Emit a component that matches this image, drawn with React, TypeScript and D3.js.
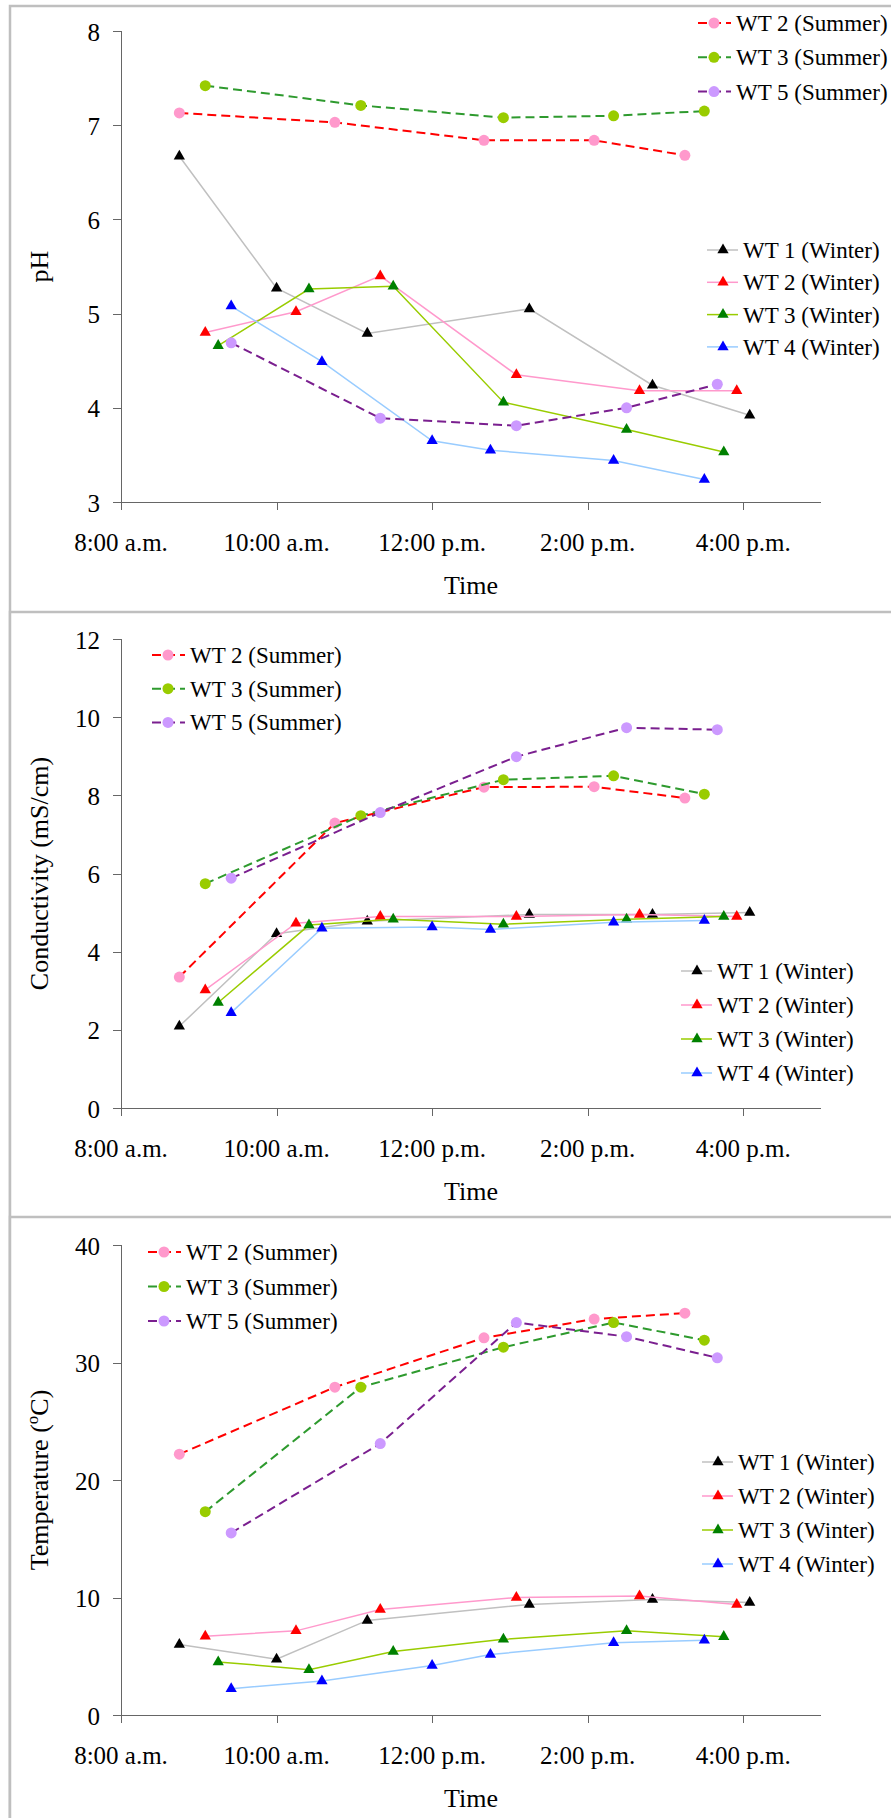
import * as d3 from 'd3'

// series names
const summerNames = ['WT 2 (Summer)', 'WT 3 (Summer)', 'WT 5 (Summer)']
const winterNames = ['WT 1 (Winter)', 'WT 2 (Winter)', 'WT 3 (Winter)', 'WT 4 (Winter)']

// sampling times (same for all three parameters)
const summerTimes = [
  ['8:45', '10:45', '12:40', '14:05', '15:15'],
  ['9:05', '11:05', '12:55', '14:20', '15:30'],
  ['9:25', '11:20', '13:05', '14:30', '15:40'],
]
const winterTimes = [
  ['8:45', '10:00', '11:10', '13:15', '14:50', '16:05'],
  ['9:05', '10:15', '11:20', '13:05', '14:40', '15:55'],
  ['9:15', '10:25', '11:30', '12:55', '14:30', '15:45'],
  ['9:25', '10:35', '12:00', '12:45', '14:20', '15:30'],
]

// pH
const phSummer = [
  [7.13, 7.03, 6.84, 6.84, 6.68],
  [7.42, 7.21, 7.08, 7.1, 7.15],
  [4.69, 3.89, 3.81, 4.0, 4.25],
]
const phWinter = [
  [6.67, 5.27, 4.79, 5.05, 4.24, 3.92],
  [4.8, 5.02, 5.4, 4.35, 4.18, 4.18],
  [4.66, 5.26, 5.29, 4.06, 3.77, 3.53],
  [5.08, 4.49, 3.65, 3.55, 3.44, 3.24],
]

// conductivity (mS/cm)
const condSummer = [
  [3.35, 7.29, 8.21, 8.22, 7.93],
  [5.74, 7.48, 8.4, 8.5, 8.03],
  [5.88, 7.56, 8.99, 9.73, 9.68],
]
const condWinter = [
  [2.09, 4.46, 4.78, 4.95, 4.95, 5.0],
  [3.02, 4.73, 4.9, 4.9, 4.95, 4.9],
  [2.7, 4.68, 4.83, 4.7, 4.83, 4.9],
  [2.44, 4.6, 4.63, 4.57, 4.75, 4.8],
]

// temperature (°C)
const tempSummer = [
  [22.2, 27.9, 32.1, 33.7, 34.2],
  [17.3, 27.9, 31.3, 33.4, 31.9],
  [15.5, 23.1, 33.4, 32.2, 30.4],
]
const tempWinter = [
  [6.0, 4.75, 8.05, 9.41, 9.83, 9.57],
  [6.7, 7.16, 8.98, 10.0, 10.13, 9.41],
  [4.52, 3.86, 5.41, 6.44, 7.16, 6.67],
  [2.24, 2.9, 4.22, 5.15, 6.14, 6.37],
]

const timeTicks = [8, 10, 12, 14, 16]
const timeLabels = ['8:00 a.m.', '10:00 a.m.', '12:00 p.m.', '2:00 p.m.', '4:00 p.m.']

const summerLine = ['#ff0000', '#2e9a2e', '#7a1f8f']
const summerFill = ['#ff99cc', '#99cc00', '#cc99ff']
const winterLine = ['#c0c0c0', '#ff99cc', '#99cc00', '#99ccff']
const winterFill = ['#000000', '#ff0000', '#008000', '#0000ff']

const FONT = '"Liberation Serif", "Times New Roman", serif'
const W = 891
const H = 1818
const plotLeft = 121
const plotRight = 821

const parseTime = (s: string) => {
  const [h, m] = s.split(':').map(Number)
  return h + m / 60
}

const panels = [
  {
    top: 6, y0: 31, y1: 502, domain: [3, 8], step: 1,
    title: 'pH', summer: phSummer, winter: phWinter,
    sLeg: { x: 698, y: 23, gap: 34.3 }, wLeg: { x: 707, y: 250, gap: 32.3 },
  },
  {
    top: 612, y0: 639, y1: 1108, domain: [0, 12], step: 2,
    title: 'Conductivity (mS/cm)', summer: condSummer, winter: condWinter,
    sLeg: { x: 152, y: 655, gap: 33.7 }, wLeg: { x: 681, y: 971, gap: 34 },
  },
  {
    top: 1217, y0: 1245, y1: 1715, domain: [0, 40], step: 10,
    title: 'temp', summer: tempSummer, winter: tempWinter,
    sLeg: { x: 148, y: 1252, gap: 34.5 }, wLeg: { x: 702, y: 1462, gap: 34 },
  },
]

const x = d3.scaleLinear().domain([8, 17]).range([plotLeft, plotRight])
const tri = d3.symbol(d3.symbolTriangle, 55)()

function Panel({ p }: { p: (typeof panels)[number] }) {
  const y = d3.scaleLinear().domain(p.domain).range([p.y1, p.y0])
  const yTicks = d3.range(p.domain[0], p.domain[1] + p.step / 2, p.step)
  const line = d3
    .line<[number, number]>()
    .x((d) => x(d[0]))
    .y((d) => y(d[1]))
  const midY = (p.y0 + p.y1) / 2

  return (
    <g>
      <rect x={10} y={p.top} width={W + 20} height={H} fill="white" stroke="#bfbfbf" strokeWidth={2.5} />

      {/* axes */}
      <line x1={plotLeft + 0.5} x2={plotLeft + 0.5} y1={p.y0} y2={p.y1 + 8} stroke="#666" />
      <line x1={plotLeft} x2={plotRight} y1={p.y1 + 0.5} y2={p.y1 + 0.5} stroke="#666" />
      {yTicks.map((t) => (
        <g key={t}>
          <line x1={plotLeft - 8} x2={plotLeft} y1={Math.round(y(t)) + 0.5} y2={Math.round(y(t)) + 0.5} stroke="#666" />
          <text x={100} y={y(t)} dy="0.38em" textAnchor="end" fontSize={25} fontFamily={FONT}>
            {t}
          </text>
        </g>
      ))}
      {timeTicks.map((t, i) => (
        <g key={t}>
          <line x1={Math.round(x(t)) + 0.5} x2={Math.round(x(t)) + 0.5} y1={p.y1} y2={p.y1 + 8} stroke="#666" />
          <text x={x(t)} y={p.y1 + 49} textAnchor="middle" fontSize={25} fontFamily={FONT}>
            {timeLabels[i]}
          </text>
        </g>
      ))}
      <text x={(plotLeft + plotRight) / 2} y={p.y1 + 92} textAnchor="middle" fontSize={26} fontFamily={FONT}>
        Time
      </text>
      <text
        transform={`translate(48,${midY}) rotate(-90)`}
        textAnchor="middle"
        fontSize={26}
        fontFamily={FONT}
      >
        {p.title === 'temp' ? (
          <>
            Temperature (<tspan fontSize={17} dy={-10}>o</tspan>
            <tspan dy={10}>C)</tspan>
          </>
        ) : (
          p.title
        )}
      </text>

      {/* winter series */}
      {p.winter.map((vals, s) => {
        const pts = vals.map((v, i) => [parseTime(winterTimes[s][i]), v] as [number, number])
        return (
          <g key={'w' + s}>
            <path d={line(pts) || ''} fill="none" stroke={winterLine[s]} strokeWidth={1.5} />
            {pts.map((d, i) => (
              <path key={i} d={tri || ''} transform={`translate(${x(d[0])},${y(d[1])})`} fill={winterFill[s]} />
            ))}
          </g>
        )
      })}

      {/* summer series */}
      {p.summer.map((vals, s) => {
        const pts = vals.map((v, i) => [parseTime(summerTimes[s][i]), v] as [number, number])
        return (
          <g key={'s' + s}>
            <path d={line(pts) || ''} fill="none" stroke={summerLine[s]} strokeWidth={2} strokeDasharray="9,5" />
            {pts.map((d, i) => (
              <circle key={i} cx={x(d[0])} cy={y(d[1])} r={5.5} fill={summerFill[s]} />
            ))}
          </g>
        )
      })}

      {/* legends */}
      {summerNames.map((n, i) => {
        const ly = p.sLeg.y + i * p.sLeg.gap
        return (
          <g key={n}>
            <line x1={p.sLeg.x} x2={p.sLeg.x + 33} y1={ly} y2={ly} stroke={summerLine[i]} strokeWidth={2} strokeDasharray="9,5" />
            <circle cx={p.sLeg.x + 16} cy={ly} r={5.5} fill={summerFill[i]} />
            <text x={p.sLeg.x + 38} y={ly} dy="0.35em" fontSize={23} fontFamily={FONT}>
              {n}
            </text>
          </g>
        )
      })}
      {winterNames.map((n, i) => {
        const ly = p.wLeg.y + i * p.wLeg.gap
        return (
          <g key={n}>
            <line x1={p.wLeg.x} x2={p.wLeg.x + 31} y1={ly} y2={ly} stroke={winterLine[i]} strokeWidth={1.5} />
            <path d={tri || ''} transform={`translate(${p.wLeg.x + 16},${ly})`} fill={winterFill[i]} />
            <text x={p.wLeg.x + 36} y={ly} dy="0.35em" fontSize={23} fontFamily={FONT}>
              {n}
            </text>
          </g>
        )
      })}
    </g>
  )
}

export default function App() {
  return (
    <div style={{ position: 'absolute', left: 0, top: 0, width: W, height: H, background: 'white' }}>
      <svg width={W} height={H} style={{ display: 'block' }}>
        <rect width={W} height={H} fill="white" />
        {panels.map((p, i) => (
          <Panel key={i} p={p} />
        ))}
      </svg>
    </div>
  )
}
